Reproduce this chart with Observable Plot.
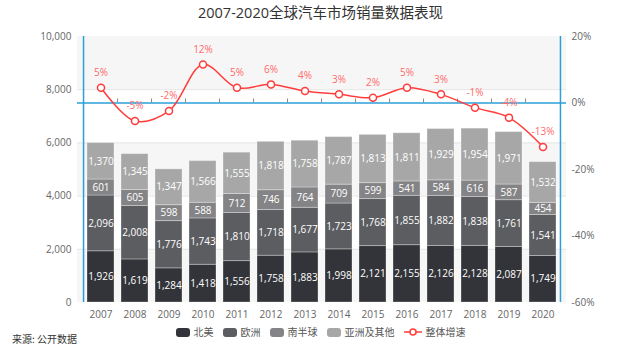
<!DOCTYPE html>
<html><head><meta charset="utf-8">
<script src="https://cdn.jsdelivr.net/npm/d3@7"></script>
<script src="https://cdn.jsdelivr.net/npm/@observablehq/plot@0.6"></script>
<style>
body{margin:0;background:#fff;font-family:"Open Sans","Noto Sans CJK SC",sans-serif;}
#wrap{position:relative;width:641px;height:349px;overflow:hidden;background:#fff;}
#title{position:absolute;top:3px;left:0;width:641px;text-align:center;font-size:14.5px;color:#333;line-height:20px;font-family:"Open Sans","Noto Sans CJK SC",sans-serif;}
#chart{position:absolute;top:0;left:0;}
#legend{position:absolute;top:326px;left:0;width:641px;display:flex;justify-content:center;gap:9px;font-size:10px;color:#555;line-height:12px;font-family:"Noto Sans CJK SC",sans-serif;}
.item{display:flex;align-items:center;gap:4px;}
.sw{width:14px;height:9px;border-radius:3px;}
#source{position:absolute;left:12px;top:333px;font-size:10px;color:#333;line-height:12px;font-family:"Noto Sans CJK SC",sans-serif;}
</style></head>
<body>
<div id="wrap">
  <div id="chart"></div>
  <div id="title">2007-2020全球汽车市场销量数据表现</div>
  <div id="legend"></div>
  <div id="source">来源: 公开数据</div>
</div>
<script>
const years = ["2007","2008","2009","2010","2011","2012","2013","2014","2015","2016","2017","2018","2019","2020"];
const series = ["北美","欧洲","南半球","亚洲及其他"];
const northAmerica = [1926,1619,1284,1418,1556,1758,1883,1998,2121,2155,2126,2128,2087,1749];
const europe       = [2096,2008,1776,1743,1810,1718,1677,1723,1768,1855,1882,1838,1761,1541];
const southern     = [601,605,598,588,712,746,764,709,599,541,584,616,587,454];
const asiaOther    = [1370,1345,1347,1566,1555,1818,1758,1787,1813,1811,1929,1954,1971,1532];
const growth       = [4.6,-5.4,-2.4,11.6,4.6,5.6,3.6,2.6,1.6,4.6,2.6,-1.4,-4.4,-13.2];
const leftTicks = [0,2000,4000,6000,8000,10000];
const pctTicks = [20,0,-20,-40,-60];
const colors = ["#333439","#5c5d61","#848486","#a7a7a7"];
const lineColor = "#ff3c3c";
const blue = "#2a9fd8";

const W = 641, H = 325, ML = 77, MR = 75, MT = 36, MB = 23;
const step = (W - ML - MR) / years.length;
const g2v = g => (g + 60) / 80 * 10000;
const v2g = v => v / 10000 * 80 - 60;
const fmt = d3.format(",");

const seriesValues = [northAmerica, europe, southern, asiaOther];
const long = [];
years.forEach((y, i) => series.forEach((s, j) => long.push({year: y, series: s, value: seriesValues[j][i]})));
const growthData = years.map((y, i) => ({year: y, g: growth[i]}));
const bands = [];
for (let k = leftTicks.length - 1; k > 0; k -= 2) bands.push({y1: leftTicks[k - 1], y2: leftTicks[k]});

const chart = Plot.plot({
  width: W, height: H, marginLeft: ML, marginRight: MR, marginTop: MT, marginBottom: MB,
  style: {fontFamily: '"Open Sans","Noto Sans CJK SC",sans-serif', fontSize: "10px", background: "transparent"},
  x: {domain: years, paddingInner: 0.2, paddingOuter: 0.1, label: null},
  y: {domain: [0, 10000], label: null},
  color: {domain: series, range: colors},
  marks: [
    Plot.rect(bands, {y1: "y1", y2: "y2", fill: "#f6f6f6"}),
    Plot.gridY(leftTicks.slice(1, -1), {stroke: "#e6e6e6", strokeOpacity: 1}),
    Plot.barY(long, {x: "year", y: "value", z: "series", fill: "series", order: series, stroke: "#ffffff", strokeOpacity: 0.3, strokeWidth: 1}),
    Plot.text(long, Plot.stackY({x: "year", y: "value", z: "series", order: series, text: d => fmt(d.value), fill: "white", fontSize: 10})),
    Plot.ruleY([g2v(0)], {stroke: blue, strokeWidth: 1.5}),
    Plot.ruleX(years.slice(1), {x: d => d, dx: -step / 2, y1: g2v(0), y2: g2v(1.2), stroke: "#888"}),
    Plot.ruleX([years[0]], {x: d => d, dx: -step / 2, y1: 0, y2: 10000, stroke: blue, strokeWidth: 1.5}),
    Plot.ruleX([years[years.length - 1]], {x: d => d, dx: step / 2, y1: 0, y2: 10000, stroke: blue, strokeWidth: 1.5}),
    Plot.line(growthData, {x: "year", y: d => g2v(d.g), curve: "catmull-rom", stroke: lineColor, strokeWidth: 1.5}),
    Plot.dot(growthData, {x: "year", y: d => g2v(d.g), r: 3.5, fill: "white", stroke: lineColor, strokeWidth: 1.5}),
    Plot.text(growthData, {x: "year", y: d => g2v(d.g), text: d => Math.round(d.g) + "%", dy: -15, fill: "#ff6a6a", fontSize: 10}),
    Plot.axisY(leftTicks, {anchor: "left", tickSize: 0, tickPadding: 6, tickFormat: fmt, label: null, color: "#666", fontSize: 10}),
    Plot.axisY(pctTicks.map(g2v), {anchor: "right", tickSize: 0, tickPadding: 5, tickFormat: v => Math.round(v2g(v)) + "%", label: null, color: "#666", fontSize: 10}),
    Plot.axisX({tickSize: 0, tickPadding: 8, label: null, color: "#666", fontSize: 10})
  ]
});
document.getElementById("chart").appendChild(chart);

const legend = document.getElementById("legend");
series.forEach((s, j) => {
  const it = document.createElement("div");
  it.className = "item";
  it.innerHTML = `<span class="sw" style="background:${colors[j]}"></span><span>${s}</span>`;
  legend.appendChild(it);
});
const li = document.createElement("div");
li.className = "item";
li.innerHTML = `<svg width="18" height="10"><line x1="0" y1="5" x2="18" y2="5" stroke="${lineColor}" stroke-width="1.5"/><circle cx="9" cy="5" r="3" fill="white" stroke="${lineColor}" stroke-width="1.5"/></svg><span>整体增速</span>`;
legend.appendChild(li);
</script>
</body></html>
